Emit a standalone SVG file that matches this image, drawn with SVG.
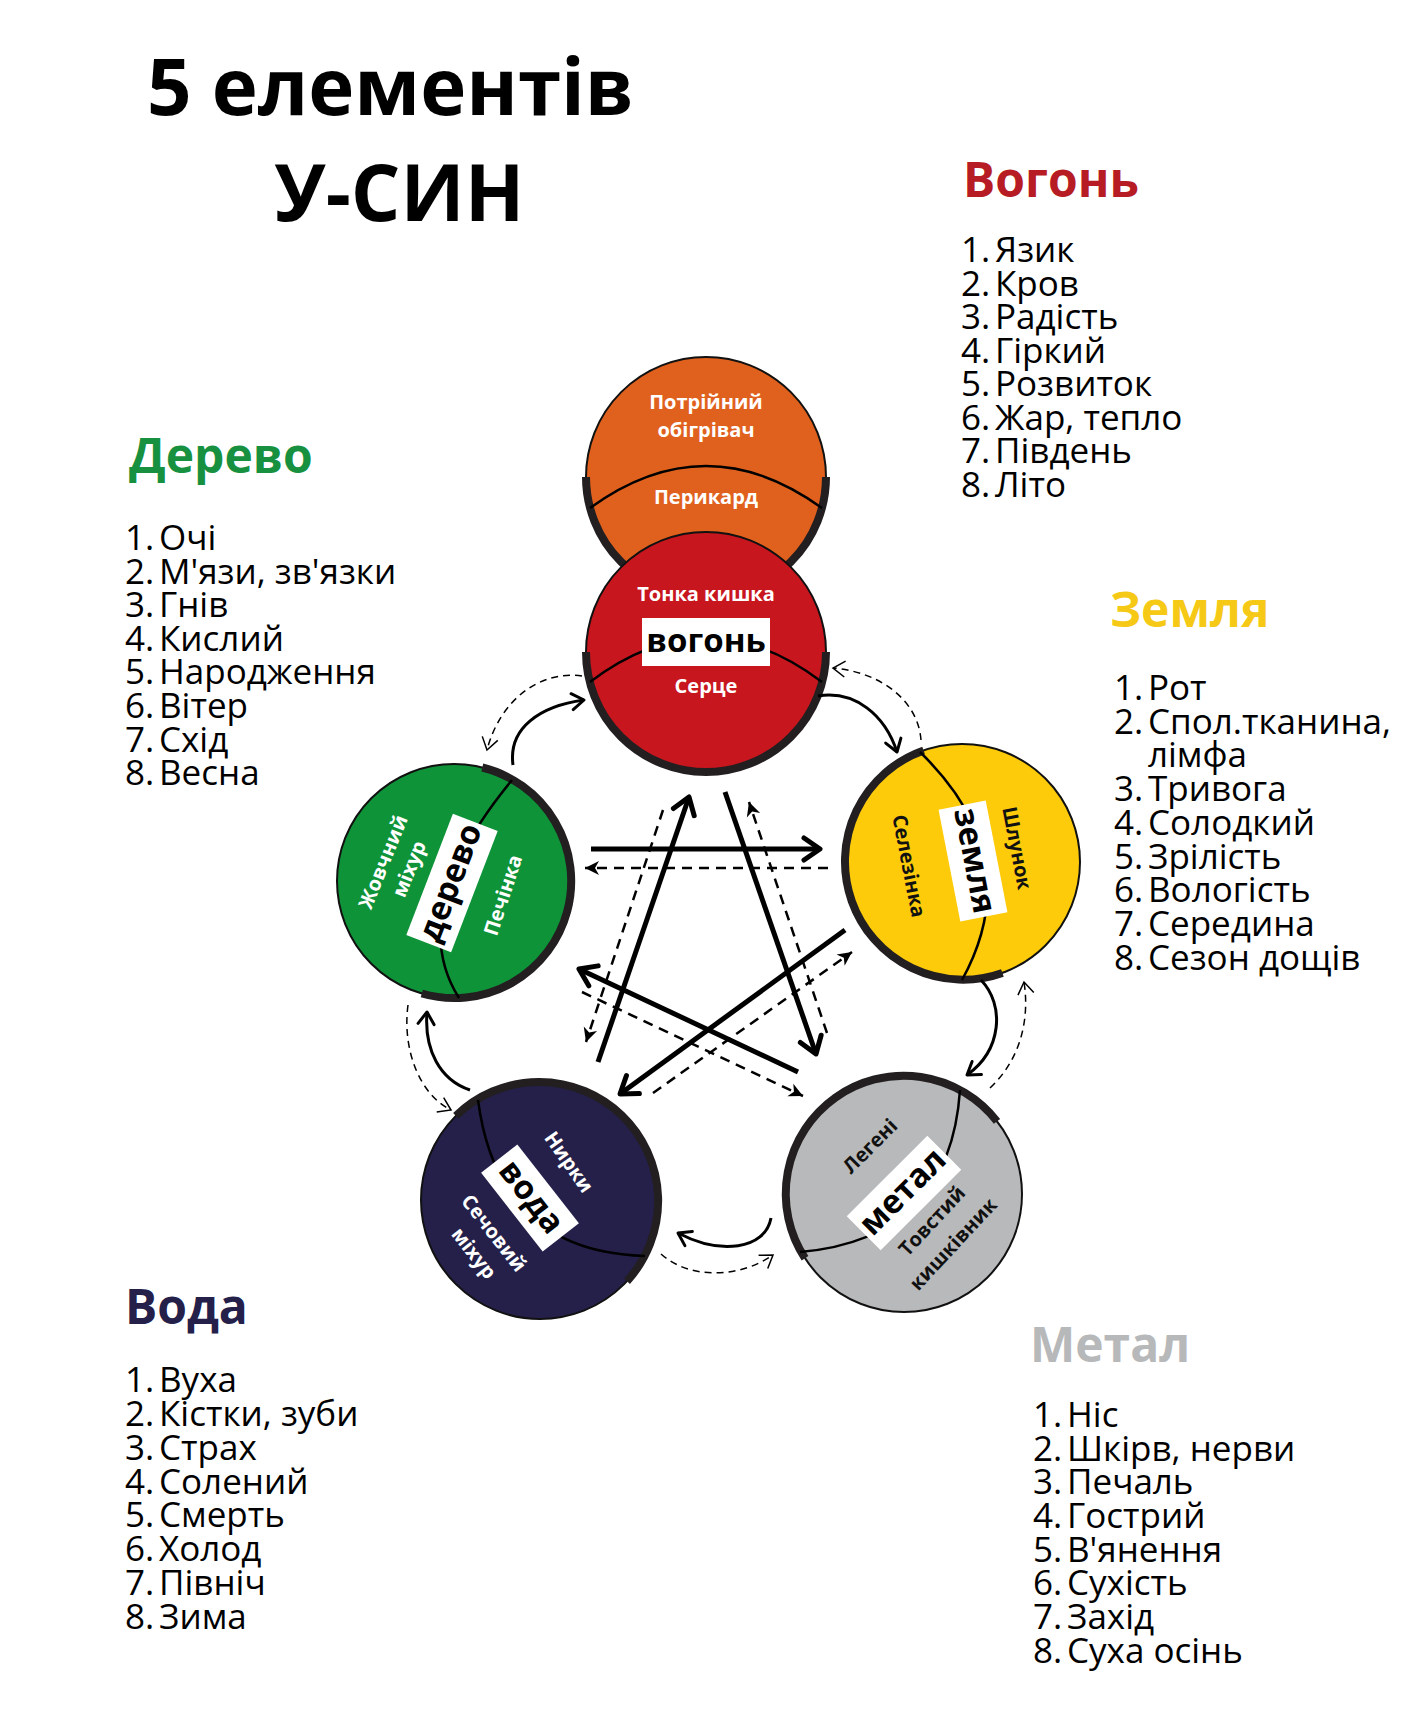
<svg xmlns="http://www.w3.org/2000/svg" width="1414" height="1735" viewBox="0 0 1414 1735">
<defs>
<style>
text{font-family:"Open Sans","Noto Sans","DejaVu Sans",sans-serif}
.title{font-size:78px;font-weight:700;fill:#000}
.h{font-size:48px;font-weight:700}
.li{font-size:35px;fill:#000}
.wl{font-size:20px;font-weight:700;fill:#fff;text-anchor:middle}
.bl{font-size:20px;font-weight:700;fill:#111;text-anchor:middle}
.el{font-size:33px;font-weight:700;fill:#000;text-anchor:middle}
.ring{stroke:#111;stroke-width:2}
.thick{fill:none;stroke:#231f20;stroke-width:8}
.div{fill:none;stroke:#000;stroke-width:2.5}
.box{fill:#fff}
.ss{fill:none;stroke:#000;stroke-width:5}
.sd{fill:none;stroke:#000;stroke-width:2.5;stroke-dasharray:10 7}
.cs{fill:none;stroke:#000;stroke-width:3}
.cd{fill:none;stroke:#000;stroke-width:1.5;stroke-dasharray:7 5}
</style>
<marker id="h5" markerUnits="userSpaceOnUse" viewBox="-24 -16 28 32" markerWidth="28" markerHeight="32" refX="0" refY="0" orient="auto" overflow="visible">
<path d="M-16,-11 L0,0 L-16,11" fill="none" stroke="#000" stroke-width="5" stroke-linejoin="round" stroke-linecap="round"/>
</marker>
<marker id="hd" markerUnits="userSpaceOnUse" viewBox="-20 -10 24 20" markerWidth="24" markerHeight="20" refX="0" refY="0" orient="auto" overflow="visible">
<path d="M-14,-7 L0,0 L-14,7 L-10,0 Z" fill="#000"/>
</marker>
<marker id="h3" markerUnits="userSpaceOnUse" viewBox="-20 -12 24 24" markerWidth="24" markerHeight="24" refX="0" refY="0" orient="auto" overflow="visible">
<path d="M-12,-8 L0,0 L-12,8" fill="none" stroke="#000" stroke-width="3" stroke-linejoin="round" stroke-linecap="round"/>
</marker>
<marker id="hc" markerUnits="userSpaceOnUse" viewBox="-20 -12 24 24" markerWidth="24" markerHeight="24" refX="0" refY="0" orient="auto" overflow="visible">
<path d="M-12,-8 L0,0 L-12,8" fill="none" stroke="#000" stroke-width="1.5"/>
</marker>
</defs>
<rect width="1414" height="1735" fill="#fff"/>

<g id="title">
<text class="title" x="147" y="115">5 елементів</text>
<text class="title" x="274" y="221">У-СИН</text>
</g>

<g id="list-fire">
<text class="h" x="963" y="197" fill="#b71c25">Вогонь</text>
<text class="li"><tspan x="961" y="262">1.</tspan><tspan x="995">Язик</tspan><tspan x="961" y="296">2.</tspan><tspan x="995">Кров</tspan><tspan x="961" y="329">3.</tspan><tspan x="995">Радість</tspan><tspan x="961" y="363">4.</tspan><tspan x="995">Гіркий</tspan><tspan x="961" y="396">5.</tspan><tspan x="995">Розвиток</tspan><tspan x="961" y="430">6.</tspan><tspan x="995">Жар, тепло</tspan><tspan x="961" y="463">7.</tspan><tspan x="995">Південь</tspan><tspan x="961" y="497">8.</tspan><tspan x="995">Літо</tspan></text>
</g>

<g id="list-wood">
<text class="h" x="129" y="473" fill="#17913f">Дерево</text>
<text class="li"><tspan x="125" y="550">1.</tspan><tspan x="159">Очі</tspan><tspan x="125" y="584">2.</tspan><tspan x="159">М'язи, зв'язки</tspan><tspan x="125" y="617">3.</tspan><tspan x="159">Гнів</tspan><tspan x="125" y="651">4.</tspan><tspan x="159">Кислий</tspan><tspan x="125" y="684">5.</tspan><tspan x="159">Народження</tspan><tspan x="125" y="718">6.</tspan><tspan x="159">Вітер</tspan><tspan x="125" y="752">7.</tspan><tspan x="159">Схід</tspan><tspan x="125" y="785">8.</tspan><tspan x="159">Весна</tspan></text>
</g>

<g id="list-earth">
<text class="h" x="1110" y="627" fill="#f5c915">Земля</text>
<text class="li"><tspan x="1114" y="700">1.</tspan><tspan x="1148">Рот</tspan><tspan x="1114" y="734">2.</tspan><tspan x="1148">Спол.тканина,</tspan><tspan x="1148" y="767">лімфа</tspan><tspan x="1114" y="801">3.</tspan><tspan x="1148">Тривога</tspan><tspan x="1114" y="835">4.</tspan><tspan x="1148">Солодкий</tspan><tspan x="1114" y="869">5.</tspan><tspan x="1148">Зрілість</tspan><tspan x="1114" y="902">6.</tspan><tspan x="1148">Вологість</tspan><tspan x="1114" y="936">7.</tspan><tspan x="1148">Середина</tspan><tspan x="1114" y="970">8.</tspan><tspan x="1148">Сезон дощів</tspan></text>
</g>

<g id="list-water">
<text class="h" x="125" y="1324" fill="#24204a">Вода</text>
<text class="li"><tspan x="125" y="1392">1.</tspan><tspan x="159">Вуха</tspan><tspan x="125" y="1426">2.</tspan><tspan x="159">Кістки, зуби</tspan><tspan x="125" y="1460">3.</tspan><tspan x="159">Страх</tspan><tspan x="125" y="1494">4.</tspan><tspan x="159">Солений</tspan><tspan x="125" y="1527">5.</tspan><tspan x="159">Смерть</tspan><tspan x="125" y="1561">6.</tspan><tspan x="159">Холод</tspan><tspan x="125" y="1595">7.</tspan><tspan x="159">Північ</tspan><tspan x="125" y="1629">8.</tspan><tspan x="159">Зима</tspan></text>
</g>

<g id="list-metal">
<text class="h" x="1030" y="1362" fill="#b7b8b9">Метал</text>
<text class="li"><tspan x="1033" y="1427">1.</tspan><tspan x="1067">Ніс</tspan><tspan x="1033" y="1461">2.</tspan><tspan x="1067">Шкірв, нерви</tspan><tspan x="1033" y="1494">3.</tspan><tspan x="1067">Печаль</tspan><tspan x="1033" y="1528">4.</tspan><tspan x="1067">Гострий</tspan><tspan x="1033" y="1562">5.</tspan><tspan x="1067">В'янення</tspan><tspan x="1033" y="1595">6.</tspan><tspan x="1067">Сухість</tspan><tspan x="1033" y="1629">7.</tspan><tspan x="1067">Захід</tspan><tspan x="1033" y="1663">8.</tspan><tspan x="1067">Суха осінь</tspan></text>
</g>

<g id="node-triple-heater">
<circle class="ring" cx="706" cy="477" r="120" fill="#e0611d"/>
<path class="thick" d="M826,477 A120,120 0 0 1 586,477"/>
<path class="div" d="M590,508 Q706,424 822,508"/>
<text class="wl" x="706" y="409">Потрійний</text>
<text class="wl" x="706" y="437">обігрівач</text>
<text class="wl" x="706" y="504">Перикард</text>
</g>

<g id="node-fire">
<circle class="ring" cx="706" cy="652" r="120" fill="#c8161e"/>
<path class="thick" d="M826,652 A120,120 0 0 1 586,652"/>
<path class="div" d="M590,682 Q706,594 822,682"/>
<text class="wl" x="706" y="601">Тонка кишка</text>
<rect class="box" x="642" y="618" width="128" height="48"/>
<text class="el" x="706" y="652">вогонь</text>
<text class="wl" x="706" y="693">Серце</text>
</g>

<g id="node-wood">
<circle class="ring" cx="454" cy="881" r="117" fill="#0f9339"/>
<path class="thick" d="M482.3,767.5 A117,117 0 1 1 421.8,993.5"/>
<path class="div" d="M512,780 Q404,911 459,998"/>
<rect class="box" x="-65" y="-24" width="130" height="48" transform="translate(452,883) rotate(-69)"/>
<text class="el" transform="translate(452,883) rotate(-69)" x="0" y="9">дерево</text>
<text class="wl" transform="translate(383,862) rotate(-68)" x="0" y="7">Жовчний</text>
<text class="wl" transform="translate(409,869) rotate(-68)" x="0" y="7">міхур</text>
<text class="wl" transform="translate(503,895) rotate(-72)" x="0" y="7">Печінка</text>
</g>

<g id="node-earth">
<circle class="ring" cx="962" cy="862" r="118" fill="#fdcb0a"/>
<path class="thick" d="M1002.4,972.9 A118,118 0 1 1 923.6,750.4"/>
<path class="div" d="M920,752 Q1029,858 962,980"/>
<rect class="box" x="-57" y="-24" width="114" height="48" transform="translate(973,861) rotate(79)"/>
<text class="el" transform="translate(973,861) rotate(79)" x="0" y="9">земля</text>
<text class="bl" transform="translate(909,866) rotate(79)" x="0" y="7">Селезінка</text>
<text class="bl" transform="translate(1017,848) rotate(79)" x="0" y="7">Шлунок</text>
</g>

<g id="node-water">
<circle class="ring" cx="540" cy="1200" r="119" fill="#24204a"/>
<path class="thick" d="M455.9,1115.9 A119,119 0 0 1 627,1281.2"/>
<path class="div" d="M478,1100 Q498,1252 645,1256"/>
<rect class="box" x="-50" y="-23" width="100" height="46" transform="translate(530,1198) rotate(52)"/>
<text class="el" transform="translate(530,1198) rotate(52)" x="0" y="9">вода</text>
<text class="wl" transform="translate(569,1162) rotate(55)" x="0" y="7">Нирки</text>
<text class="wl" transform="translate(494,1233) rotate(52)" x="0" y="7">Сечовий</text>
<text class="wl" transform="translate(474,1253) rotate(52)" x="0" y="7">міхур</text>
</g>

<g id="node-metal">
<circle class="ring" cx="904" cy="1194" r="118" fill="#b8b9ba"/>
<path class="thick" d="M805,1258.3 A118,118 0 0 1 997,1121.4"/>
<path class="div" d="M960,1090 Q950,1239 800,1252"/>
<rect class="box" x="-57" y="-24" width="114" height="48" transform="translate(904,1193) rotate(-45)"/>
<text class="el" transform="translate(904,1193) rotate(-45)" x="0" y="9">метал</text>
<text class="bl" transform="translate(870,1146) rotate(-45)" x="0" y="7">Легені</text>
<text class="bl" transform="translate(932,1221) rotate(-47)" x="0" y="7">Товстий</text>
<text class="bl" transform="translate(953,1244) rotate(-47)" x="0" y="7">кишківник</text>
</g>

<g id="connectors">
<path class="ss" d="M591,849 L820,849" marker-end="url(#h5)"/>
<path class="ss" d="M598,1062 L689,797" marker-end="url(#h5)"/>
<path class="ss" d="M725,792 L816,1054" marker-end="url(#h5)"/>
<path class="ss" d="M798,1072 L579,969" marker-end="url(#h5)"/>
<path class="ss" d="M845,930 L620,1094" marker-end="url(#h5)"/>
<path class="sd" d="M828,868 L585,868" marker-end="url(#hd)"/>
<path class="sd" d="M663,810 L586,1042" marker-end="url(#hd)"/>
<path class="sd" d="M827,1033 L749,802" marker-end="url(#hd)"/>
<path class="sd" d="M582,992 L803,1096" marker-end="url(#hd)"/>
<path class="sd" d="M653,1093 L852,952" marker-end="url(#hd)"/>
<path class="cs" d="M513,765 C508,728 540,706 584,700" marker-end="url(#h3)"/>
<path class="cs" d="M818,696 C855,690 885,715 897,752" marker-end="url(#h3)"/>
<path class="cs" d="M981,980 C1005,1005 1002,1050 967,1075" marker-end="url(#h3)"/>
<path class="cs" d="M771,1218 C765,1250 720,1255 678,1233" marker-end="url(#h3)"/>
<path class="cs" d="M470,1090 C440,1080 424,1050 427,1012" marker-end="url(#h3)"/>
<path class="cd" d="M582,676 C540,670 500,700 487,750" marker-end="url(#hc)"/>
<path class="cd" d="M921,740 C918,700 880,672 833,668" marker-end="url(#hc)"/>
<path class="cd" d="M990,1088 C1020,1060 1030,1020 1024,982" marker-end="url(#hc)"/>
<path class="cd" d="M661,1254 C690,1280 740,1278 773,1255" marker-end="url(#hc)"/>
<path class="cd" d="M408,1005 C402,1050 420,1095 451,1110" marker-end="url(#hc)"/>
</g>
</svg>
